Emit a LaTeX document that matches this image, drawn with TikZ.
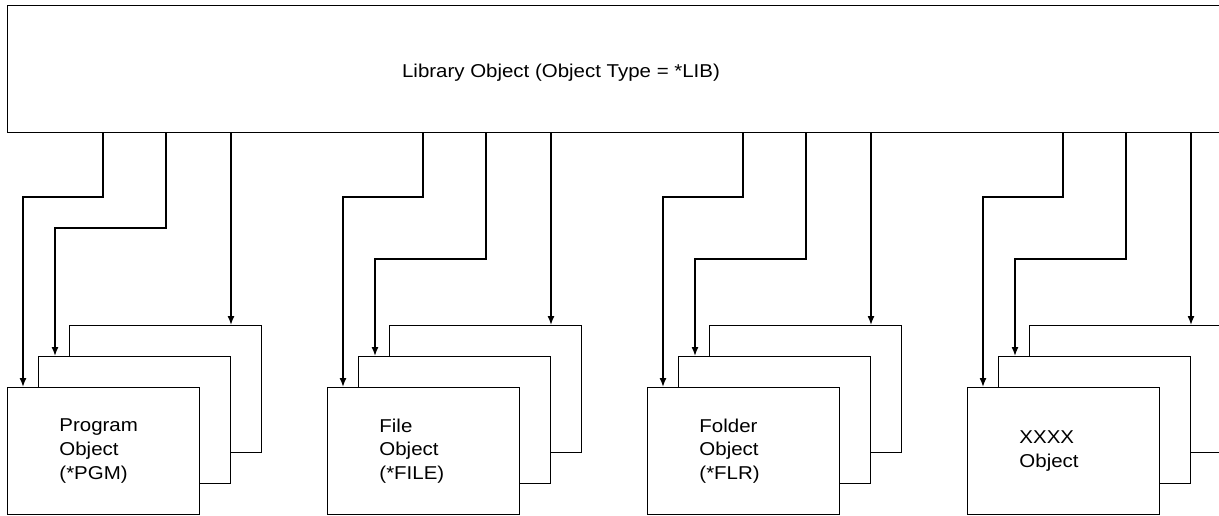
\documentclass[tikz,border=0pt]{standalone}
\usepackage{fontspec}
\setmainfont[FakeStretch=1.1]{Liberation Sans}
\usetikzlibrary{positioning}
\usetikzlibrary{arrows,arrows.meta}
\tikzset{edge/.style = {-{Latex[length=9pt,width=7pt]}, line width=1.4pt}}

\begin{document}
\begin{tikzpicture}[x=1pt,y=-1pt,line width=0.9pt,
    obj node/.style={rectangle,draw,fill=white,minimum width=192pt,minimum height=127pt,inner sep=0pt},
    every node/.style={font=\fontsize{18.6}{23.7}\selectfont}]
    \useasboundingbox (0,0) rectangle (1219,516);

    \node[rectangle,draw,minimum width=1240pt,minimum height=127pt,inner sep=0pt,anchor=north west] (lib) at (7,5) {};
    \node (libtext) at (561,73) {Library Object (Object Type = *LIB)};

    \foreach \i/\x/\bend/\txt in {1/7/227/{Program\\Object\\(*PGM)},
                                 2/327/258/{File\\Object\\(*FILE)},
                                 3/647/258/{Folder\\Object\\(*FLR)},
                                 4/967/258/{XXXX\\Object}} {
        \node[obj node,anchor=north west] (b\i) at (\x+62,325) {};
        \node[obj node,anchor=north west] (m\i) at (\x+31,356) {};
        \node[obj node,anchor=north west,text width=88pt,inner xsep=52pt,align=left] (f\i) at (\x,387) {\txt};

        \draw[edge] ([xshift=96pt]f\i.north west |- lib.south) -- ++(0,64) -| ([xshift=16pt]f\i.north west);
        \draw[edge] ([xshift=128pt]m\i.north west |- lib.south) -- ++(0,\bend-132) -| ([xshift=17pt]m\i.north west);
        \draw[edge] ([xshift=162pt]b\i.north west |- lib.south) -- ([xshift=162pt]b\i.north west);
    }
\end{tikzpicture}
\end{document}
